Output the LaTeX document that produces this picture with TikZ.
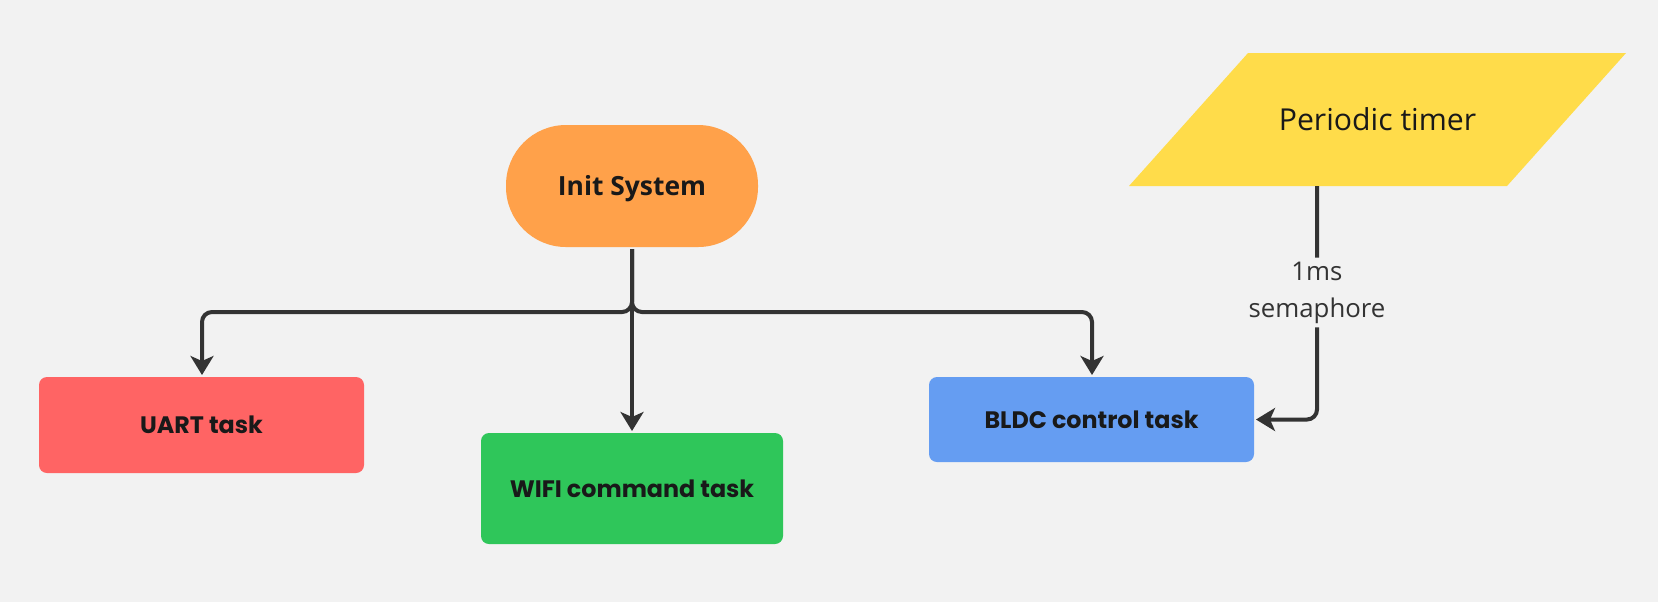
\documentclass[tikz,border=0pt]{standalone}
\usepackage{fontspec}
\setmainfont{Open Sans}
\newfontfamily\taskfont{Poppins}
\usepackage{tikz}
\usetikzlibrary{arrows.meta}
\usepackage{xcolor}
\definecolor{bg_grey}{RGB}{242,242,242}
\definecolor{line_grey}{RGB}{51,51,51}
\definecolor{orange_node}{RGB}{255,161,74}
\definecolor{red_node}{RGB}{255,100,100}
\definecolor{green_node}{RGB}{47,198,90}
\definecolor{blue_node}{RGB}{101,157,242}
\definecolor{yellow_node}{RGB}{255,220,74}

\begin{document}
\begin{tikzpicture}[x=0.5pt,y=-0.5pt,->,>={Stealth[length=9.5pt,width=11.5pt,inset=2.5pt]},
                      line width=2pt,draw=line_grey,text=black!90]
    \tikzstyle{task}=[rectangle,rounded corners=4pt,draw=none,inner sep=0pt,
                      font=\taskfont\bfseries\fontsize{11.9}{14}\selectfont]
    \tikzstyle{wire}=[line_grey,rounded corners=5pt]

    % background and page size
    \fill[bg_grey] (0,0) rectangle (1658,602);
    \useasboundingbox (0,0) rectangle (1658,602);

    \node[rectangle,rounded corners=30pt,fill=orange_node,minimum width=126pt,minimum height=61pt,
          text height=9.4pt,text depth=0pt,
          font=\bfseries\fontsize{13.2}{16}\selectfont]        (init)  at (632,186)    {Init System};
    \node[task,fill=red_node,minimum width=162.5pt,minimum height=48pt]     (uart)  at (201.5,425)  {UART task};
    \node[task,fill=green_node,minimum width=151pt,minimum height=55.5pt]   (wifi)  at (632,488.5)  {WIFI command task};
    \node[task,fill=blue_node,minimum width=162.5pt,minimum height=42.5pt]  (bldc)  at (1091.5,419.5) {BLDC control task};

    % periodic timer (parallelogram)
    \fill[yellow_node] (1248,53) -- (1626,53) -- (1507,186) -- (1129,186) -- cycle;
    \node[font=\fontsize{15.1}{18}\selectfont]                 (timer) at (1377.5,119.5) {Periodic timer};
    \coordinate (timer_out) at (1317,186);

    \draw[wire] (init.south) -- (632,312) -- (202,312) -- (uart.north -| 202,0);
    \draw[wire] (init.south) -- (632,312) -- (1092,312) -- (bldc.north -| 1092,0);
    \draw[wire] (init.south) -- (wifi.north);

    \draw[wire] (timer_out) -- node[pos=0.456,fill=bg_grey,inner xsep=1pt,inner ysep=2pt,align=center,text=black!80,
          font=\fontsize{12.9}{18.5}\selectfont] {1ms\\semaphore} (1317,419.5) -- (bldc.east);
\end{tikzpicture}
\end{document}
